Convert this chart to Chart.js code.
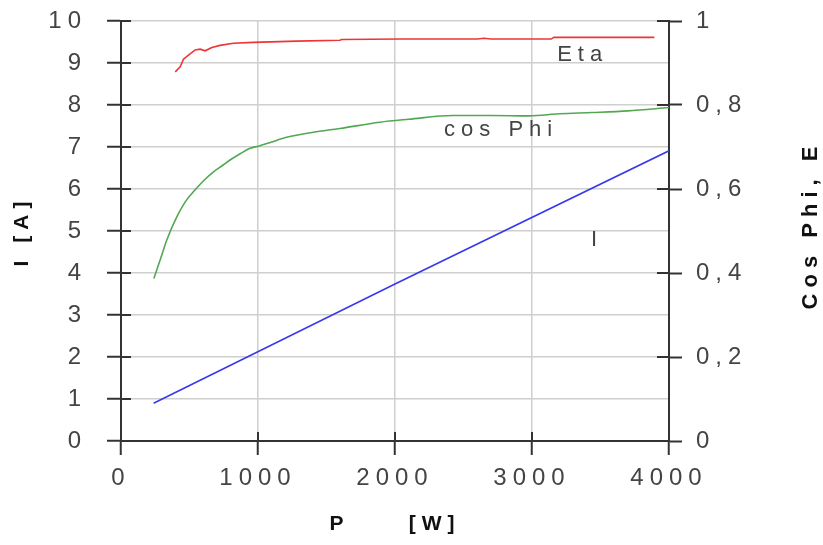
<!DOCTYPE html>
<html>
<head>
<meta charset="utf-8">
<script src="https://cdn.jsdelivr.net/npm/chart.js@4"></script>
<style>
  body { margin: 0; background: #fff; }
  canvas { display: block; }
</style>
</head>
<body>
<canvas id="motorChart" width="823" height="545"></canvas>
<script>
// Data
const powerI = [238, 2000, 4000];
const current = [0.9, 3.74, 6.91];

const powerPhi = [240, 290, 335, 408, 470, 541, 610, 675, 740, 796, 870, 942, 1003, 1100, 1209, 1403, 1598, 1889, 2100, 2421, 2700, 2982, 3200, 3441, 3700, 4000];
const cosPhi = [0.387, 0.435, 0.479, 0.534, 0.570, 0.598, 0.622, 0.641, 0.656, 0.669, 0.684, 0.697, 0.702, 0.712, 0.723, 0.735, 0.744, 0.759, 0.766, 0.775, 0.775, 0.774, 0.779, 0.782, 0.786, 0.794];

const powerEta = [396, 432, 456, 493, 541, 578, 614, 663, 723, 820, 966, 1282, 1598, 1610, 2035, 2600, 2650, 2700, 3140, 3160, 3893];
const eta = [0.879, 0.891, 0.909, 0.919, 0.931, 0.933, 0.929, 0.937, 0.942, 0.947, 0.949, 0.952, 0.954, 0.956, 0.957, 0.957, 0.959, 0.957, 0.957, 0.961, 0.961];

const xTicks = [0, 1000, 2000, 3000, 4000];

const SPACING = 6;
const FONT = "'Liberation Sans', Arial, sans-serif";
const AXIS = "#333";
const GRID = "#cfcfcf";
const TEXT = "#444";

function toPoints(xs, ys) {
    return xs.map((x, i) => ({ x: x, y: ys[i] }));
}

function noPad(s) {
    s.paddingTop = 0;
    s.paddingBottom = 0;
    s.paddingLeft = 0;
    s.paddingRight = 0;
}

// letter spacing + inner half of the tick marks + curve labels
const decorations = {
    id: "decorations",
    beforeUpdate(chart) { chart.ctx.letterSpacing = SPACING + "px"; },
    beforeDraw(chart) { chart.ctx.letterSpacing = SPACING + "px"; },
    afterDraw(chart) {
        const ctx = chart.ctx;
        const area = chart.chartArea;
        const x = chart.scales.x, y = chart.scales.y, y2 = chart.scales.y2;
        ctx.save();
        ctx.strokeStyle = AXIS;
        ctx.lineWidth = 2;
        ctx.beginPath();
        x.ticks.forEach(t => {
            const px = x.getPixelForValue(t.value);
            ctx.moveTo(px, area.bottom);
            ctx.lineTo(px, area.bottom - 9);
        });
        y.ticks.forEach(t => {
            const py = y.getPixelForValue(t.value);
            ctx.moveTo(area.left, py);
            ctx.lineTo(area.left + 10, py);
        });
        y2.ticks.forEach(t => {
            const py = y2.getPixelForValue(t.value);
            ctx.moveTo(area.right - 12, py);
            ctx.lineTo(area.right, py);
        });
        ctx.stroke();

        // curve names
        ctx.letterSpacing = SPACING + "px";
        ctx.fillStyle = TEXT;
        ctx.font = "22px " + FONT;
        ctx.textAlign = "center";
        ctx.textBaseline = "middle";
        ctx.fillText("Eta", x.getPixelForValue(3370), y2.getPixelForValue(0.92));
        ctx.fillText("cos Phi", x.getPixelForValue(2775), y2.getPixelForValue(0.74));
        ctx.fillText("I", x.getPixelForValue(3474), y.getPixelForValue(4.79));

        // right axis title, reading bottom to top
        ctx.font = "bold 22px " + FONT;
        ctx.translate(811, (area.top + area.bottom) / 2 - 6);
        ctx.rotate(-Math.PI / 2);
        ctx.fillStyle = "#111";
        ctx.fillText("Cos Phi, E", 0, 0);
        ctx.restore();
    }
};

const ctx = document.getElementById("motorChart").getContext("2d");
new Chart(ctx, {
    type: "line",
    data: {
        datasets: [
            {
                label: "Eta",
                data: toPoints(powerEta, eta),
                yAxisID: "y2",
                borderColor: "#ee3535",
                borderWidth: 1.6,
                pointRadius: 0,
                tension: 0,
            },
            {
                label: "cos Phi",
                data: toPoints(powerPhi, cosPhi),
                yAxisID: "y2",
                borderColor: "#52a852",
                borderWidth: 1.6,
                pointRadius: 0,
                cubicInterpolationMode: "monotone",
            },
            {
                label: "I",
                data: toPoints(powerI, current),
                yAxisID: "y",
                borderColor: "#3838ee",
                borderWidth: 1.6,
                pointRadius: 0,
                tension: 0,
            },
        ],
    },
    options: {
        responsive: false,
        animation: false,
        layout: { padding: { top: 21 } },
        plugins: {
            legend: { display: false },
            tooltip: { enabled: false },
        },
        scales: {
            x: {
                type: "linear",
                min: 0,
                max: 4000,
                afterBuildTicks: s => { s.ticks = xTicks.map(v => ({ value: v })); },
                afterFit: s => { s.height = 104; noPad(s); },
                ticks: {
                    color: TEXT,
                    font: { family: FONT, size: 24 },
                    padding: 9,
                    maxRotation: 0,
                    callback: v => String(v),
                },
                grid: { color: GRID, lineWidth: 1.5, tickColor: AXIS, tickWidth: 2, tickLength: 14 },
                border: { color: AXIS, width: 2 },
                title: {
                    display: true,
                    text: "P     [W]",
                    color: "#111",
                    font: { family: FONT, size: 21, weight: "bold" },
                    padding: { top: 0, bottom: 8 },
                },
            },
            y: {
                position: "left",
                min: 0,
                max: 10,
                afterFit: s => { s.width = 121; noPad(s); },
                ticks: {
                    stepSize: 1,
                    color: TEXT,
                    font: { family: FONT, size: 24 },
                    padding: 20,
                },
                grid: { color: GRID, lineWidth: 1.5, tickColor: AXIS, tickWidth: 2, tickLength: 14 },
                border: { color: AXIS, width: 2 },
                title: {
                    display: true,
                    text: "I [A]",
                    color: "#111",
                    font: { family: FONT, size: 21, weight: "bold" },
                    padding: { top: 10, bottom: 0 },
                },
            },
            y2: {
                position: "right",
                min: 0,
                max: 1,
                afterFit: s => { s.width = 154; noPad(s); },
                ticks: {
                    stepSize: 0.2,
                    color: TEXT,
                    font: { family: FONT, size: 24 },
                    padding: 14,
                    callback: v => {
                        const r = Math.round(v * 10) / 10;
                        if (r === 0 || r === 1) return String(r);
                        return r.toFixed(1).replace(".", ",");
                    },
                },
                grid: { drawOnChartArea: false, tickColor: AXIS, tickWidth: 2, tickLength: 13 },
                border: { color: AXIS, width: 2 },
            },
        },
    },
    plugins: [decorations],
});
</script>
</body>
</html>
